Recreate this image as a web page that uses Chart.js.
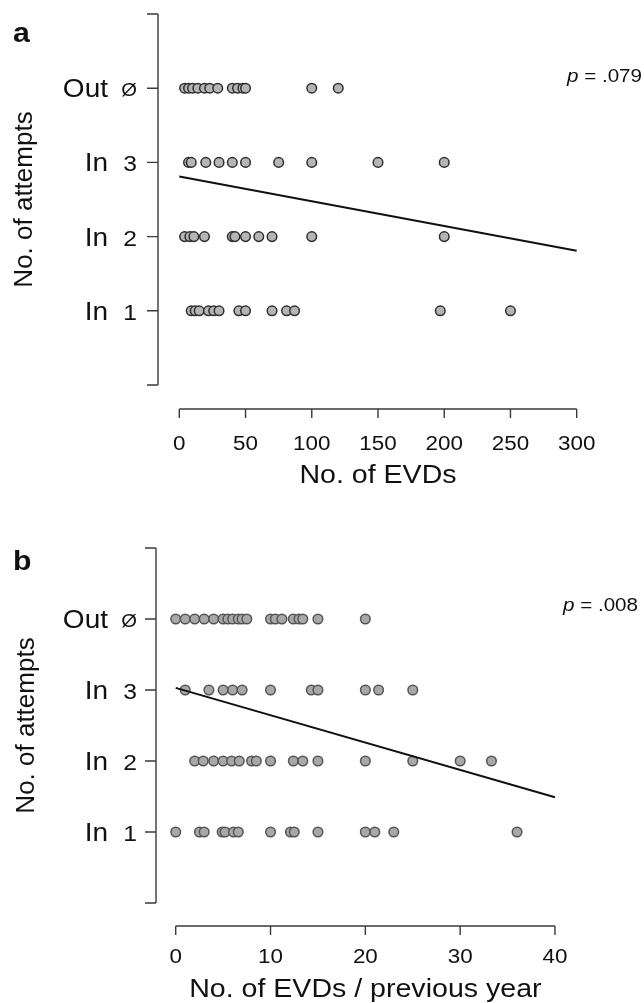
<!DOCTYPE html>
<html>
<head>
<meta charset="utf-8">
<script src="https://cdn.jsdelivr.net/npm/chart.js@4/dist/chart.umd.min.js"></script>
<style>
  html, body { margin: 0; padding: 0; background: #fff; }
  .panel { position: absolute; left: 0; width: 644px; }
  #panelA { top: 0; height: 500px; }
  #panelB { top: 500px; height: 503px; }
</style>
</head>
<body>
<div class="panel" id="panelA"><canvas id="chartA"></canvas></div>
<div class="panel" id="panelB"><canvas id="chartB"></canvas></div>
<script>
// ---- panel a: No. of EVDs ----
const xTicksA = [0, 50, 100, 150, 200, 250, 300];
const outA = [4, 7, 10, 14, 19, 23, 29, 40, 44, 48, 50, 100, 120];
const in3A = [7, 9, 20, 30, 40, 50, 75, 100, 150, 200];
const in2A = [4, 8, 11, 19, 40, 42, 50, 60, 70, 100, 200];
const in1A = [9, 12, 15, 22, 26, 30, 45, 50, 70, 81, 87, 197, 250];
const fitXA = [0, 300];
const fitYA = [2.81, 1.81];

// ---- panel b: No. of EVDs / previous year ----
const xTicksB = [0, 10, 20, 30, 40];
const outB = [0, 1, 2, 3, 4, 5, 5.5, 6, 6.6, 7, 7.5, 10, 10.5, 11.2, 12.4, 13, 13.4, 15, 20];
const in3B = [1, 3.5, 5, 6, 7, 10, 14.3, 15, 20, 21.4, 25];
const in2B = [2, 2.9, 4, 5, 5.9, 6.7, 8, 8.5, 10, 12.4, 13.4, 15, 20, 25, 30, 33.3];
const in1B = [0, 2.5, 3, 4.9, 5.2, 6.1, 6.6, 10, 12.1, 12.5, 15, 20, 21, 23, 36];
const fitXB = [0, 40];
const fitYB = [3.03, 1.49];

// shared y axis
const yValues = [1, 2, 3, 4];
const yWords = ['In', 'In', 'In', 'Out'];
const ySymbols = ['1', '2', '3', 'Ø'];
const yEnds = [0, 5];

const FONT = '"Liberation Sans", Arial, Helvetica, sans-serif';
const SX = 1.12; // the source figure is a little stretched sideways

function drawText(ctx, str, x, y, font, align, sx) {
    ctx.save();
    ctx.translate(x, y);
    ctx.scale(sx || 1, 1);
    ctx.font = font;
    ctx.textAlign = align || 'left';
    ctx.textBaseline = 'alphabetic';
    ctx.fillText(str, 0, 0);
    ctx.restore();
}

const rAxesPlugin = {
    id: 'rAxes',
    afterDraw(chart, args, o) {
        const ctx = chart.ctx;
        const xs = chart.scales.x;
        const ys = chart.scales.y;
        const area = chart.chartArea;
        ctx.save();
        ctx.strokeStyle = '#3a3a3a';
        ctx.fillStyle = '#111';
        ctx.lineWidth = 1.4;

        // y axis (line plus ticks)
        const yAxisX = area.left;
        ctx.beginPath();
        ctx.moveTo(yAxisX, ys.getPixelForValue(yEnds[0]));
        ctx.lineTo(yAxisX, ys.getPixelForValue(yEnds[1]));
        yEnds.concat(yValues).forEach(v => {
            const py = ys.getPixelForValue(v);
            ctx.moveTo(yAxisX, py);
            ctx.lineTo(yAxisX - 11, py);
        });
        ctx.stroke();

        yValues.forEach((v, i) => {
            const py = ys.getPixelForValue(v) + 9;
            drawText(ctx, yWords[i], 108, py, '25px ' + FONT, 'right', SX);
            const isNull = ySymbols[i] === 'Ø';
            const symFont = isNull ? '18px ' + FONT : '22px ' + FONT;
            drawText(ctx, ySymbols[i], 137, py - (isNull ? 1 : 0), symFont, 'right', SX);
        });

        // y title
        ctx.save();
        ctx.translate(o.yTitleX, (area.top + area.bottom) / 2);
        ctx.rotate(-Math.PI / 2);
        ctx.font = '26px ' + FONT;
        ctx.textAlign = 'center';
        ctx.textBaseline = 'alphabetic';
        ctx.fillText('No. of attempts', 0, 0);
        ctx.restore();

        // x axis, detached below the plot
        const axisY = area.bottom + o.xGap;
        const ticks = o.xTicks;
        ctx.beginPath();
        ctx.moveTo(xs.getPixelForValue(ticks[0]), axisY);
        ctx.lineTo(xs.getPixelForValue(ticks[ticks.length - 1]), axisY);
        ticks.forEach(t => {
            const px = xs.getPixelForValue(t);
            ctx.moveTo(px, axisY);
            ctx.lineTo(px, axisY + 9);
        });
        ctx.stroke();
        ticks.forEach(t => {
            drawText(ctx, String(t), xs.getPixelForValue(t), axisY + o.tickBase, '20px ' + FONT, 'center', SX);
        });
        const midX = (xs.getPixelForValue(ticks[0]) + xs.getPixelForValue(ticks[ticks.length - 1])) / 2;
        drawText(ctx, o.xTitle, midX, axisY + o.titleBase, '25.5px ' + FONT, 'center', SX);

        // panel letter
        drawText(ctx, o.letter, 13, o.letterY, 'bold 27px ' + FONT, 'left', SX);

        // p value, italic p
        ctx.save();
        ctx.font = '18.4px ' + FONT;
        const rest = ' = ' + o.pValue;
        ctx.translate(o.pRight, o.pY);
        ctx.scale(SX, 1);
        const wRest = ctx.measureText(rest).width;
        ctx.textAlign = 'right';
        ctx.fillText(rest, 0, 0);
        ctx.font = 'italic 18.4px ' + FONT;
        ctx.fillText('p', -wRest, 0);
        ctx.restore();

        ctx.restore();
    }
};

function rowData(xsArr, yv) {
    return xsArr.map(x => ({ x: x, y: yv }));
}

function makeChart(id, cfg) {
    const pointStyle = {
        showLine: false,
        pointRadius: 4.8,
        pointHoverRadius: 4.8,
        pointBackgroundColor: cfg.fill,
        pointBorderColor: cfg.stroke,
        pointBorderWidth: 1.5
    };
    const datasets = [
        Object.assign({ label: 'Out', data: rowData(cfg.out, 4) }, pointStyle),
        Object.assign({ label: 'In 3', data: rowData(cfg.in3, 3) }, pointStyle),
        Object.assign({ label: 'In 2', data: rowData(cfg.in2, 2) }, pointStyle),
        Object.assign({ label: 'In 1', data: rowData(cfg.in1, 1) }, pointStyle),
        {
            label: 'fit',
            type: 'line',
            data: cfg.fitX.map((x, i) => ({ x: x, y: cfg.fitY[i] })),
            borderColor: '#111',
            borderWidth: 2,
            pointRadius: 0,
            fill: false,
            tension: 0,
            order: -1
        }
    ];
    return new Chart(document.getElementById(id), {
        type: 'scatter',
        data: { datasets: datasets },
        plugins: [rAxesPlugin],
        options: {
            responsive: true,
            maintainAspectRatio: false,
            animation: false,
            layout: { padding: cfg.padding },
            plugins: {
                legend: { display: false },
                tooltip: { enabled: false },
                rAxes: cfg.axes
            },
            scales: {
                x: { type: 'linear', min: cfg.xMin, max: cfg.xMax, display: false },
                y: { type: 'linear', min: 0, max: 5, display: false }
            }
        }
    });
}

makeChart('chartA', {
    out: outA, in3: in3A, in2: in2A, in1: in1A,
    fitX: fitXA, fitY: fitYA,
    fill: '#b5b5b5', stroke: '#2e2e2e',
    padding: { left: 158, right: 44, top: 14, bottom: 115 },
    xMin: -16.08, xMax: 317.6,
    axes: {
        xTicks: xTicksA, xGap: 24, tickBase: 41, titleBase: 74,
        xTitle: 'No. of EVDs', yTitleX: 32,
        letter: 'a', letterY: 42,
        pValue: '.079', pRight: 642, pY: 82
    }
});

makeChart('chartB', {
    out: outB, in3: in3B, in2: in2B, in1: in1B,
    fitX: fitXB, fitY: fitYB,
    fill: '#a8a8a8', stroke: '#555555',
    padding: { left: 156, right: 44, top: 48, bottom: 100 },
    xMin: -2.08, xMax: 44.75,
    axes: {
        xTicks: xTicksB, xGap: 23, tickBase: 37, titleBase: 71,
        xTitle: 'No. of EVDs / previous year', yTitleX: 34,
        letter: 'b', letterY: 70,
        pValue: '.008', pRight: 638, pY: 111
    }
});
</script>
</body>
</html>
